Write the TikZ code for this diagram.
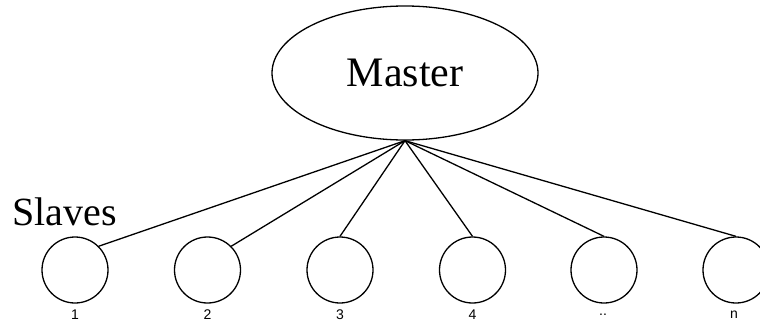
\documentclass[tikz,border=0pt]{standalone}
\usepackage{fontspec}
\setmainfont{Liberation Serif}
\newfontfamily\numfont{Liberation Sans}
\usetikzlibrary{shapes.geometric}
\begin{document}
\begin{tikzpicture}[x=1pt,y=1pt,
  slave/.style={draw, circle, line width=1.3pt, minimum size=66pt, inner sep=0pt},
  link/.style={line width=1.3pt},
  numlabel/.style={font=\numfont\fontsize{14}{16}\selectfont, inner sep=0pt}]
\useasboundingbox (0,0) rectangle (760,325);
\node[draw, ellipse, line width=1.3pt, minimum width=266pt, minimum height=134pt, inner sep=0pt,
      font=\fontsize{42}{48}\selectfont] (master) at (405,252) {Master};
\node[font=\fontsize{40}{46}\selectfont, anchor=base west, inner sep=0pt] (slaves) at (12,100) {Slaves};
\node[slave] (s1) at (75,55) {};
\node[slave] (s2) at (207.5,55) {};
\node[slave] (s3) at (340,55) {};
\node[slave] (s4) at (472.5,55) {};
\node[slave] (s5) at (604,55) {};
\node[slave] (s6) at (736,55) {};
\node[numlabel] (l1) at (75,10) {1};
\node[numlabel] (l2) at (207.5,10) {2};
\node[numlabel] (l3) at (340,10) {3};
\node[numlabel] (l4) at (472.5,10) {4};
\node[numlabel] (l5) at (603,10) {..};
\node[numlabel] (l6) at (734,10) {n};
\draw[link] (master.south) -- (s1.north east);
\draw[link] (master.south) -- (s2.north east);
\draw[link] (master.south) -- (s3.north);
\draw[link] (master.south) -- (s4.north);
\draw[link] (master.south) -- (s5.north);
\draw[link] (master.south) -- (s6.north);
\end{tikzpicture}
\end{document}
